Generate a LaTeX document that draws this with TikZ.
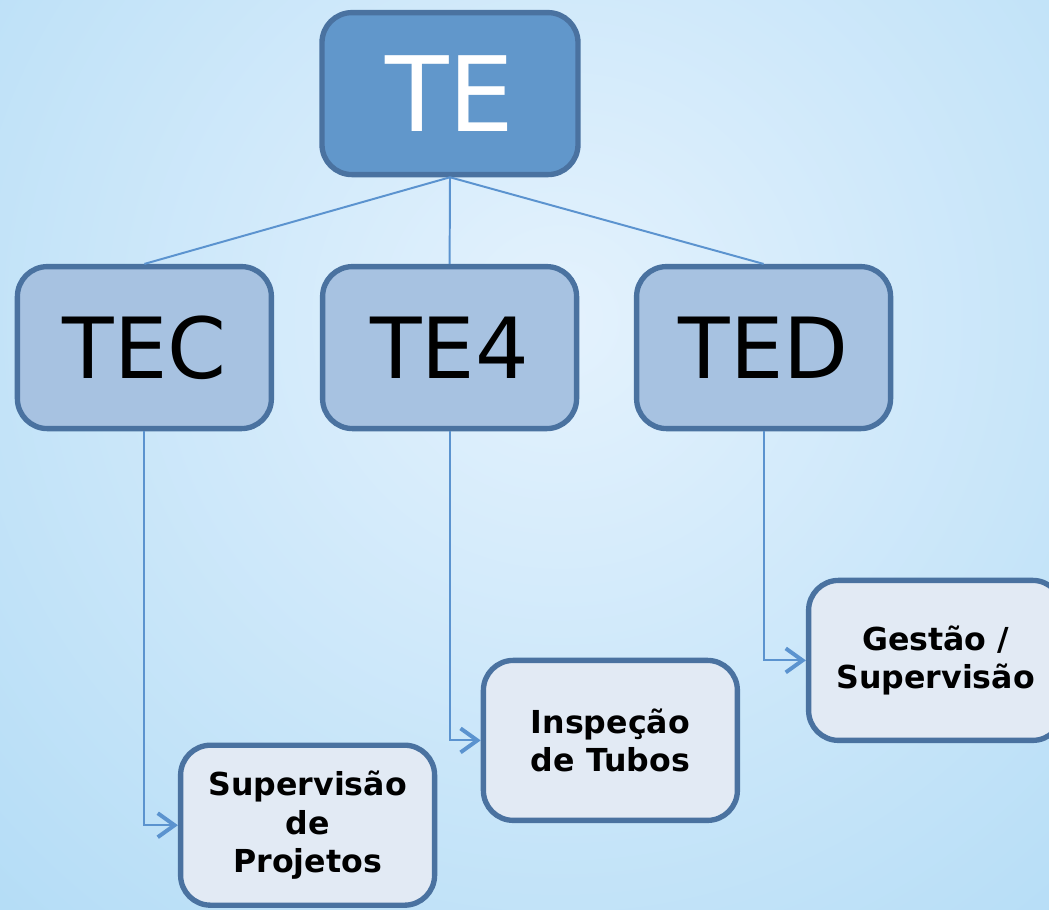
\documentclass[tikz,border=0pt]{standalone}
\usepackage{fontspec}
\setmainfont{DejaVu Sans}
\usepackage{tikz}
\usetikzlibrary{arrows.meta,positioning,calc}
\definecolor{topfill}{HTML}{6197CB}
\definecolor{midfill}{HTML}{A7C2E1}
\definecolor{leaffill}{HTML}{E2EAF4}
\definecolor{boxline}{HTML}{4A72A0}
\definecolor{wireblue}{HTML}{5B93CF}
\definecolor{bginner}{HTML}{E4F2FD}
\definecolor{bgouter}{HTML}{B3DCF6}

\begin{document}
\begin{tikzpicture}[
    topbox/.style={draw=boxline, line width=3.8pt, fill=topfill, rounded corners=0.75cm, minimum width=6.4cm, minimum height=4.05cm, text=white, font=\fontsize{74}{80}\selectfont},
    midbox/.style={draw=boxline, line width=3.8pt, fill=midfill, rounded corners=0.75cm, minimum width=6.35cm, minimum height=4.05cm, font=\fontsize{60}{70}\selectfont},
    leafbox/.style={draw=boxline, line width=3.8pt, fill=leaffill, rounded corners=0.75cm, minimum width=6.35cm, minimum height=4.0cm, align=center, font=\bfseries\fontsize{22.5}{27.5}\selectfont},
    wire/.style={draw=wireblue, line width=1.4pt},
    elbow/.style={wire, -{Straight Barb[length=4.2mm, width=6mm, line width=2.8pt]}}
]
        % background
        \begin{scope}
            \clip (0,0) rectangle (26.225,-22.75);
            \shade[inner color=bginner, outer color=bgouter] (14,-8) circle (21);
        \end{scope}
        \useasboundingbox (0,0) rectangle (26.225,-22.75);

        % boxes
        \node[topbox] (te) at (11.25,-2.34) {TE};
        \node[midbox] (tec) at (3.61,-8.69) {TEC};
        \node[midbox] (te4) at (11.24,-8.69) {TE4};
        \node[midbox] (ted) at (19.09,-8.69) {TED};
        \node[leafbox] (proj) at (7.69,-20.63) {Supervisão\\de\\Projetos};
        \node[leafbox] (tubos) at (15.26,-18.51) {Inspeção\\de Tubos};
        \node[leafbox] (gest) at (23.39,-16.51) {Gestão /\\Supervisão};

        % links
        \draw[wire] (te.south) -- (tec.north);
        \draw[wire] (te.south) -- (te4.north);
        \draw[wire] (te.south) -- (ted.north);
        \draw[elbow] (tec.south) |- (proj.west);
        \draw[elbow] (te4.south) |- (tubos.west);
        \draw[elbow] (ted.south) |- (gest.west);
    \end{tikzpicture}
\end{document}
